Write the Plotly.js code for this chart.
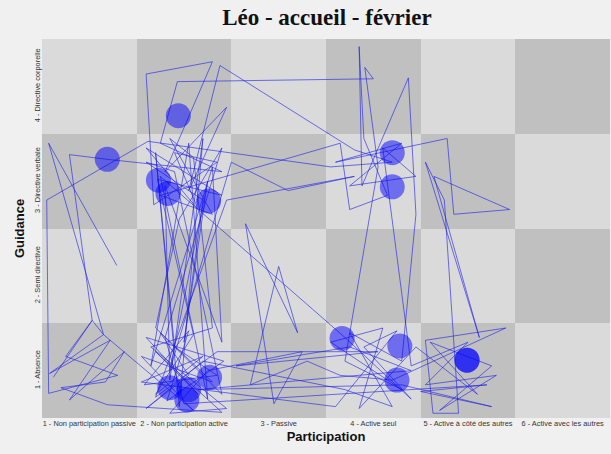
<!DOCTYPE html>
<html>
<head>
<meta charset="utf-8">
<script src="https://cdn.plot.ly/plotly-3.0.1.min.js"></script>
<style>html,body{margin:0;padding:0;background:#f0f0f0;}#chart{width:611px;height:454px;}</style>
</head>
<body>
<div id="chart"></div>
<script>
const participationLabels = ["1 - Non participation passive", "2 - Non participation active", "3 - Passive", "4 - Active seul", "5 - Active à côté des autres", "6 - Active avec les autres"];
const guidanceLabels = ["1 - Absence", "2 - Semi directive", "3 - Directive verbale", "4 - Directive corporelle"];
const participationLevels = [1, 2, 3, 4, 5, 6];
const guidanceLevels = [1, 2, 3, 4];

const pathX = [0.62,1.03,1.15,0.58,1.22,1.03,0.79,1.37,1.17,0.70,1.19,2.40,1.70,2.15,1.60,2.42,1.82,2.05,1.58,2.35,1.90,
  1.70,1.95,2.20,1.85,1.80,2.40,2.30,1.65,2.05,2.25,1.75,
  3.70,4.40,3.90,4.25,3.60,1.55,2.20,1.70,2.10,
  1.72,2.40,1.60,2.15,1.90,2.35,1.68,
  1.60,2.30,1.80,2.45,2.05,2.38,3.80,4.20,3.55,
  1.62,0.55,0.57,1.30,0.75,1.03,0.79,1.19,2.40,1.75,1.93,4.00,3.91,4.05,
  3.70,4.30,3.55,4.10,3.85,4.45,5.10,4.60,5.25,4.70,5.30,4.55,5.00,4.40,
  4.10,4.45,3.75,4.30,3.60,4.78,4.85,5.44,4.64,5.12,4.55,4.75,4.90,4.63,4.55,5.40,4.20,3.65,
  3.30,2.70,3.00,3.20,2.65,2.95,3.25,2.25,1.85,2.45,1.65,2.30,
  2.10,1.85,2.30,1.75,3.65,3.75,4.15,3.90,3.85,3.88,4.37,4.45,4.30,3.75,4.20,3.70,
  2.20,1.60,2.05,1.75,2.40,1.90,1.60,2.20,2.00,2.25,1.85,
  2.50,3.10,3.80,2.45,1.70,2.35,4.05,2.55,3.75,4.40,2.15,4.30,5.25,4.50,5.20,2.00,1.80,
  2.40,1.95,1.70,2.30,1.55,2.10,1.15,0.57,1.29];
const pathY = [0.93,1.53,1.38,0.97,1.32,1.04,0.69,1.20,0.88,0.82,0.64,0.56,1.20,0.75,1.35,1.10,0.68,1.42,0.85,0.95,1.25,
  3.30,0.62,3.45,0.90,2.95,1.30,3.15,1.05,3.40,0.70,3.05,
  1.35,0.70,1.25,1.42,0.62,0.88,1.15,0.75,1.38,
  3.02,2.85,3.35,2.70,3.30,3.20,2.75,
  4.13,4.26,3.10,3.78,2.90,4.22,3.33,3.20,3.15,
  3.42,2.80,0.76,0.95,1.15,1.53,3.28,3.23,3.10,3.40,4.05,4.08,4.20,3.15,
  1.10,0.80,1.30,1.45,0.60,1.25,0.75,1.30,1.05,0.58,0.95,0.85,1.30,1.05,
  3.35,3.05,2.95,3.40,3.20,3.45,2.65,2.70,3.05,1.35,3.20,2.80,0.55,0.55,1.32,1.45,0.90,0.95,
  1.10,0.85,2.10,1.40,2.55,0.65,1.20,1.00,0.55,0.60,1.25,1.45,
  3.25,3.45,2.65,2.85,3.40,2.70,2.85,3.45,4.42,2.95,4.09,2.65,1.10,1.40,0.62,0.80,
  1.10,0.60,0.95,1.40,0.75,3.10,3.20,2.80,1.30,3.00,1.00,
  3.20,2.90,3.05,2.80,0.72,1.20,1.20,1.05,1.25,1.00,0.80,0.85,0.62,0.78,0.85,0.65,1.35,
  3.35,2.60,1.45,0.88,1.15,0.58,1.38,3.40,2.11];

// large circles
const circleX = [1.94,1.19,1.73,1.83,2.26,4.20,4.20,3.67,4.28,4.99,4.99,4.25,2.27,1.85,2.05,2.03];
const circleY = [3.69,3.23,3.01,2.87,2.79,3.30,2.94,1.34,1.26,1.11,1.11,0.90,0.93,0.82,0.80,0.69];

const boardZ = guidanceLevels.map(g => participationLevels.map(p => (p + g) % 2 === 0 ? 0 : 1));

const data = [
  {type: 'heatmap', x: participationLevels, y: guidanceLevels, z: boardZ,
   colorscale: [[0, '#c0c0c0'], [1, '#dadada']], showscale: false, hoverinfo: 'skip', zmin: 0, zmax: 1},
  {type: 'scatter', mode: 'lines', x: pathX, y: pathY,
   line: {color: 'rgba(30,30,230,0.72)', width: 0.85}, hoverinfo: 'skip'},
  {type: 'scatter', mode: 'markers', x: circleX, y: circleY,
   marker: {size: 25, color: 'rgba(0,0,255,0.5)', line: {width: 0}}, hoverinfo: 'skip'}
];

const layout = {
  width: 611, height: 454,
  paper_bgcolor: '#f0f0f0', plot_bgcolor: '#f0f0f0',
  margin: {l: 42, r: 1, t: 39, b: 36},
  showlegend: false,
  title: {text: '<b>Léo - accueil - février</b>', x: 0.535, xanchor: 'center', y: 0.962, yanchor: 'middle',
          font: {family: 'Liberation Serif, Times New Roman, serif', size: 23, color: '#111'}},
  xaxis: {range: [0.5, 6.5], tickvals: participationLevels, ticktext: participationLabels, tickangle: 0,
          showgrid: false, zeroline: false, ticks: '', showline: false,
          tickfont: {family: 'Liberation Sans, Arial, sans-serif', size: 7.4, color: '#333'},
          title: {text: '<b>Participation</b>', standoff: 4,
                  font: {family: 'Liberation Sans, Arial, sans-serif', size: 13, color: '#111'}}},
  yaxis: {range: [0.5, 4.5], tickvals: guidanceLevels, ticktext: guidanceLabels, tickangle: -90,
          showgrid: false, zeroline: false, ticks: '', showline: false,
          tickfont: {family: 'Liberation Sans, Arial, sans-serif', size: 7.4, color: '#333'},
          title: {text: '<b>Guidance</b>', standoff: 4,
                  font: {family: 'Liberation Sans, Arial, sans-serif', size: 13, color: '#111'}}}
};

Plotly.newPlot('chart', data, layout, {displayModeBar: false, staticPlot: true});
</script>
</body>
</html>
